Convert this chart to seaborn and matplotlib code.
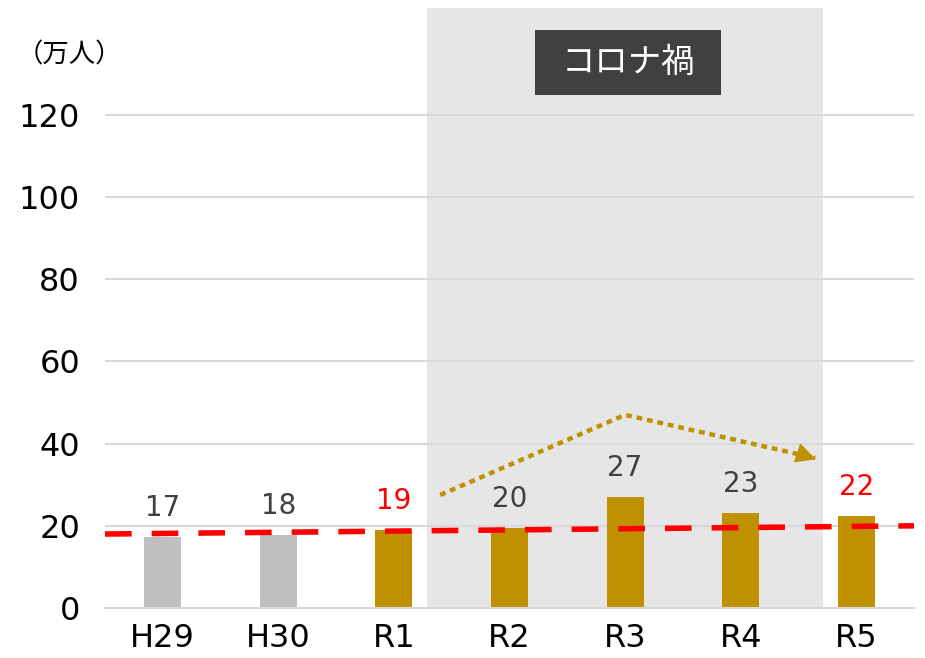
import matplotlib
matplotlib.use("Agg")
import matplotlib.pyplot as plt
from matplotlib.patches import Rectangle
import seaborn as sns
import pandas as pd

categories = ["H29", "H30", "R1", "R2", "R3", "R4", "R5"]
values = [17.3, 17.8, 19.0, 19.5, 27.0, 23.1, 22.4]
labels = ["17", "18", "19", "20", "27", "23", "22"]
label_colors = ["#404040", "#404040", "#FF0000", "#404040", "#404040", "#404040", "#FF0000"]
bar_colors = ["#BFBFBF", "#BFBFBF", "#BF9000", "#BF9000", "#BF9000", "#BF9000", "#BF9000"]
y_ticks = [0, 20, 40, 60, 80, 100, 120]
trend_x = [-0.5, 6.5]
trend_y = [18.0, 20.0]
arrow_x = [2.40, 4.0, 5.645]
arrow_y = [27.5, 47.0, 36.5]
covid_span = [2.29, 5.71]

sns.set_theme(style="white")
plt.rcParams["font.family"] = ["DejaVu Sans", "Noto Sans CJK JP"]
JP = ["Noto Sans CJK JP", "DejaVu Sans"]

fig = plt.figure(figsize=(9.25, 6.58), dpi=100)
ax = fig.add_axes([105/925, 50/658, (914-105)/925, (608-8)/658])

df = pd.DataFrame({"cat": categories, "val": values})
ax.axvspan(covid_span[0], covid_span[1], color="#E6E6E6", zorder=0, lw=0)
for t in y_ticks[1:]:
    ax.axhline(t, color="#D9D9D9", lw=1.5, zorder=0.5)

sns.barplot(data=df, x="cat", y="val", hue="cat", palette=bar_colors,
            legend=False, width=0.32, ax=ax, zorder=2, saturation=1, linewidth=0)

ax.set_xlim(-0.5, 6.5)
ax.set_ylim(0, 146)
ax.set_yticks(y_ticks)
ax.set_yticklabels([str(t) for t in y_ticks], fontsize=23, color="#000000")
ax.tick_params(axis="x", labelsize=23, colors="#000000", length=0, pad=11)
ax.tick_params(axis="y", length=0, pad=18)
ax.set_xlabel("")
ax.set_ylabel("")
for s in ["top", "right", "left"]:
    ax.spines[s].set_visible(False)
ax.spines["bottom"].set_color("#D9D9D9")
ax.spines["bottom"].set_linewidth(1.5)
ax.set_facecolor("none")

for i, (v, lab, c) in enumerate(zip(values, labels, label_colors)):
    ax.annotate(lab, (i, v), xytext=(0, 11), textcoords="offset points",
                ha="center", va="bottom", fontsize=20, color=c, zorder=5)

ax.plot(trend_x, trend_y, color="#FF0000", lw=4, dashes=(4.8, 3.6), zorder=4, clip_on=False)

ax.plot(arrow_x, arrow_y, color="#BF9000", lw=3.2, dashes=(1.3, 1.1), zorder=4)
ax.annotate("", xy=(arrow_x[2] + 0.03, arrow_y[2] - 0.5), xytext=(arrow_x[2] - 0.1, arrow_y[2] + 0.7),
            arrowprops=dict(arrowstyle="-|>", color="#BF9000", mutation_scale=36, lw=0), zorder=4)

ax.text(-0.805, 134.5, "（万人）", fontsize=19, ha="center", va="center", color="#000000", family=JP)
ax.add_patch(Rectangle((3.22, 124.9), 4.83 - 3.22, 140.7 - 124.9, fc="#404040", ec="none", zorder=6))
ax.text(4.026, 132.8, "コロナ禍", fontsize=24, ha="center", va="center", color="white",
        family=JP, zorder=7)

fig.savefig("out.png", dpi=100)
